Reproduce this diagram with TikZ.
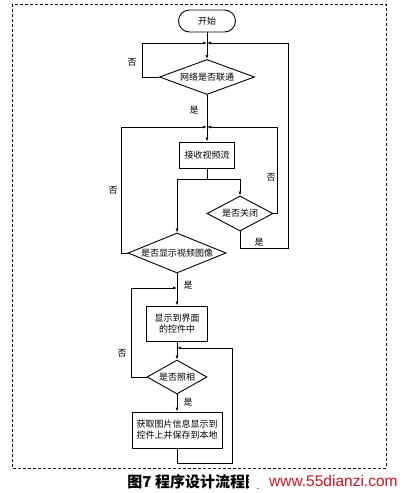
\documentclass[tikz,border=0pt]{standalone}
\usepackage{fontspec}
\setmainfont{Noto Sans CJK SC}
\newfontfamily\wmfont{Liberation Sans}
\usetikzlibrary{shapes.geometric,arrows.meta}

\begin{document}
\begin{tikzpicture}[x=1pt, y=-1pt, font=\fontsize{9}{11}\selectfont,
		line width=0.9pt,
		proc/.style={draw, inner sep=0pt, align=center},
		cond/.style={draw, diamond, inner sep=0pt, aspect=2.6},
		arr/.style={-{Latex[length=4pt,width=3pt]}},
		lbl/.style={inner sep=1pt}]
		\useasboundingbox (0,0) rectangle (403,493);
		\draw[dashed, line width=0.7pt, dash pattern=on 3pt off 2pt] (12,4) rectangle (386,468);

		\node[proc, rounded corners=11pt, minimum width=57, minimum height=22] (start) at (207,21) {开始};
		\node[cond, minimum width=95, minimum height=35] (net) at (207,77) {网络是否联通};
		\node[proc, minimum width=55, minimum height=26] (recv) at (207,155) {接收视频流};
		\node[cond, minimum width=66, minimum height=35] (close) at (240,213.5) {是否关闭};
		\node[cond, minimum width=98, minimum height=40] (show) at (177,253) {是否显示视频图像};
		\node[proc, minimum width=61, minimum height=35] (disp) at (177,323.5) {显示到界面\\的控件中};
		\node[cond, minimum width=60, minimum height=34] (photo) at (177,377) {是否照相};
		\node[proc, minimum width=90, minimum height=36] (save) at (177,430) {获取图片信息显示到\\控件上并保存到本地};

		% junctions and corners
		\coordinate (j1) at (207,43);
		\coordinate (j2) at (207,127);
		\coordinate (j3) at (177,288);
		\coordinate (j4) at (177,348);
		\coordinate (split) at (207,179);
		\coordinate (netl) at (142,43);
		\coordinate (closer) at (277,127);
		\coordinate (closeb) at (288,248);
		\coordinate (outr) at (288,43);
		\coordinate (showl) at (121,127);
		\coordinate (photol) at (131,288);
		\coordinate (saveb) at (232,463);
		\coordinate (saver) at (232,348);

		\draw[arr] (start) -- (net);
		\draw[arr] (net.west) -| (netl) -- (j1);
		\draw[arr] (net) -- (recv);
		\draw[arr] (recv) -- (split) -| (close.north);
		\draw[arr] (split) -| (show.north);
		\draw[arr] (close.east) -| (closer) -- (j2);
		\draw[arr] (close.south) |- (closeb) -- (outr) -- (j1);
		\draw[arr] (show.west) -| (showl) -- (j2);
		\draw[arr] (show) -- (disp);
		\draw[arr] (disp) -- (photo);
		\draw[arr] (photo.west) -| (photol) -- (j3);
		\draw[arr] (photo) -- (save);
		\draw[arr] (save.south) |- (saveb) -- (saver) -- (j4);

		\node[lbl] (no1) at (132,62) {否};
		\node[lbl] (yes1) at (194,110) {是};
		\node[lbl] (no2) at (271,177) {否};
		\node[lbl] (yes2) at (259,242) {是};
		\node[lbl] (no3) at (113,190) {否};
		\node[lbl] (yes3) at (188,285) {是};
		\node[lbl] (no4) at (122,353) {否};
		\node[lbl] (yes4) at (188,402) {是};

		\node[anchor=west, inner sep=0pt, font=\fontsize{15}{18}\selectfont\bfseries] (cap) at (127,482) {图7 程序设计流程图};
		\node[anchor=east, fill=white, inner xsep=1pt, inner ysep=1pt, text width=148pt, align=right,
			text={rgb,255:red,205;green,20;blue,30},
			font=\wmfont\fontsize{15.5}{18}\selectfont] (wm) at (399,481) {www.55dianzi.com};
	\end{tikzpicture}
\end{document}
